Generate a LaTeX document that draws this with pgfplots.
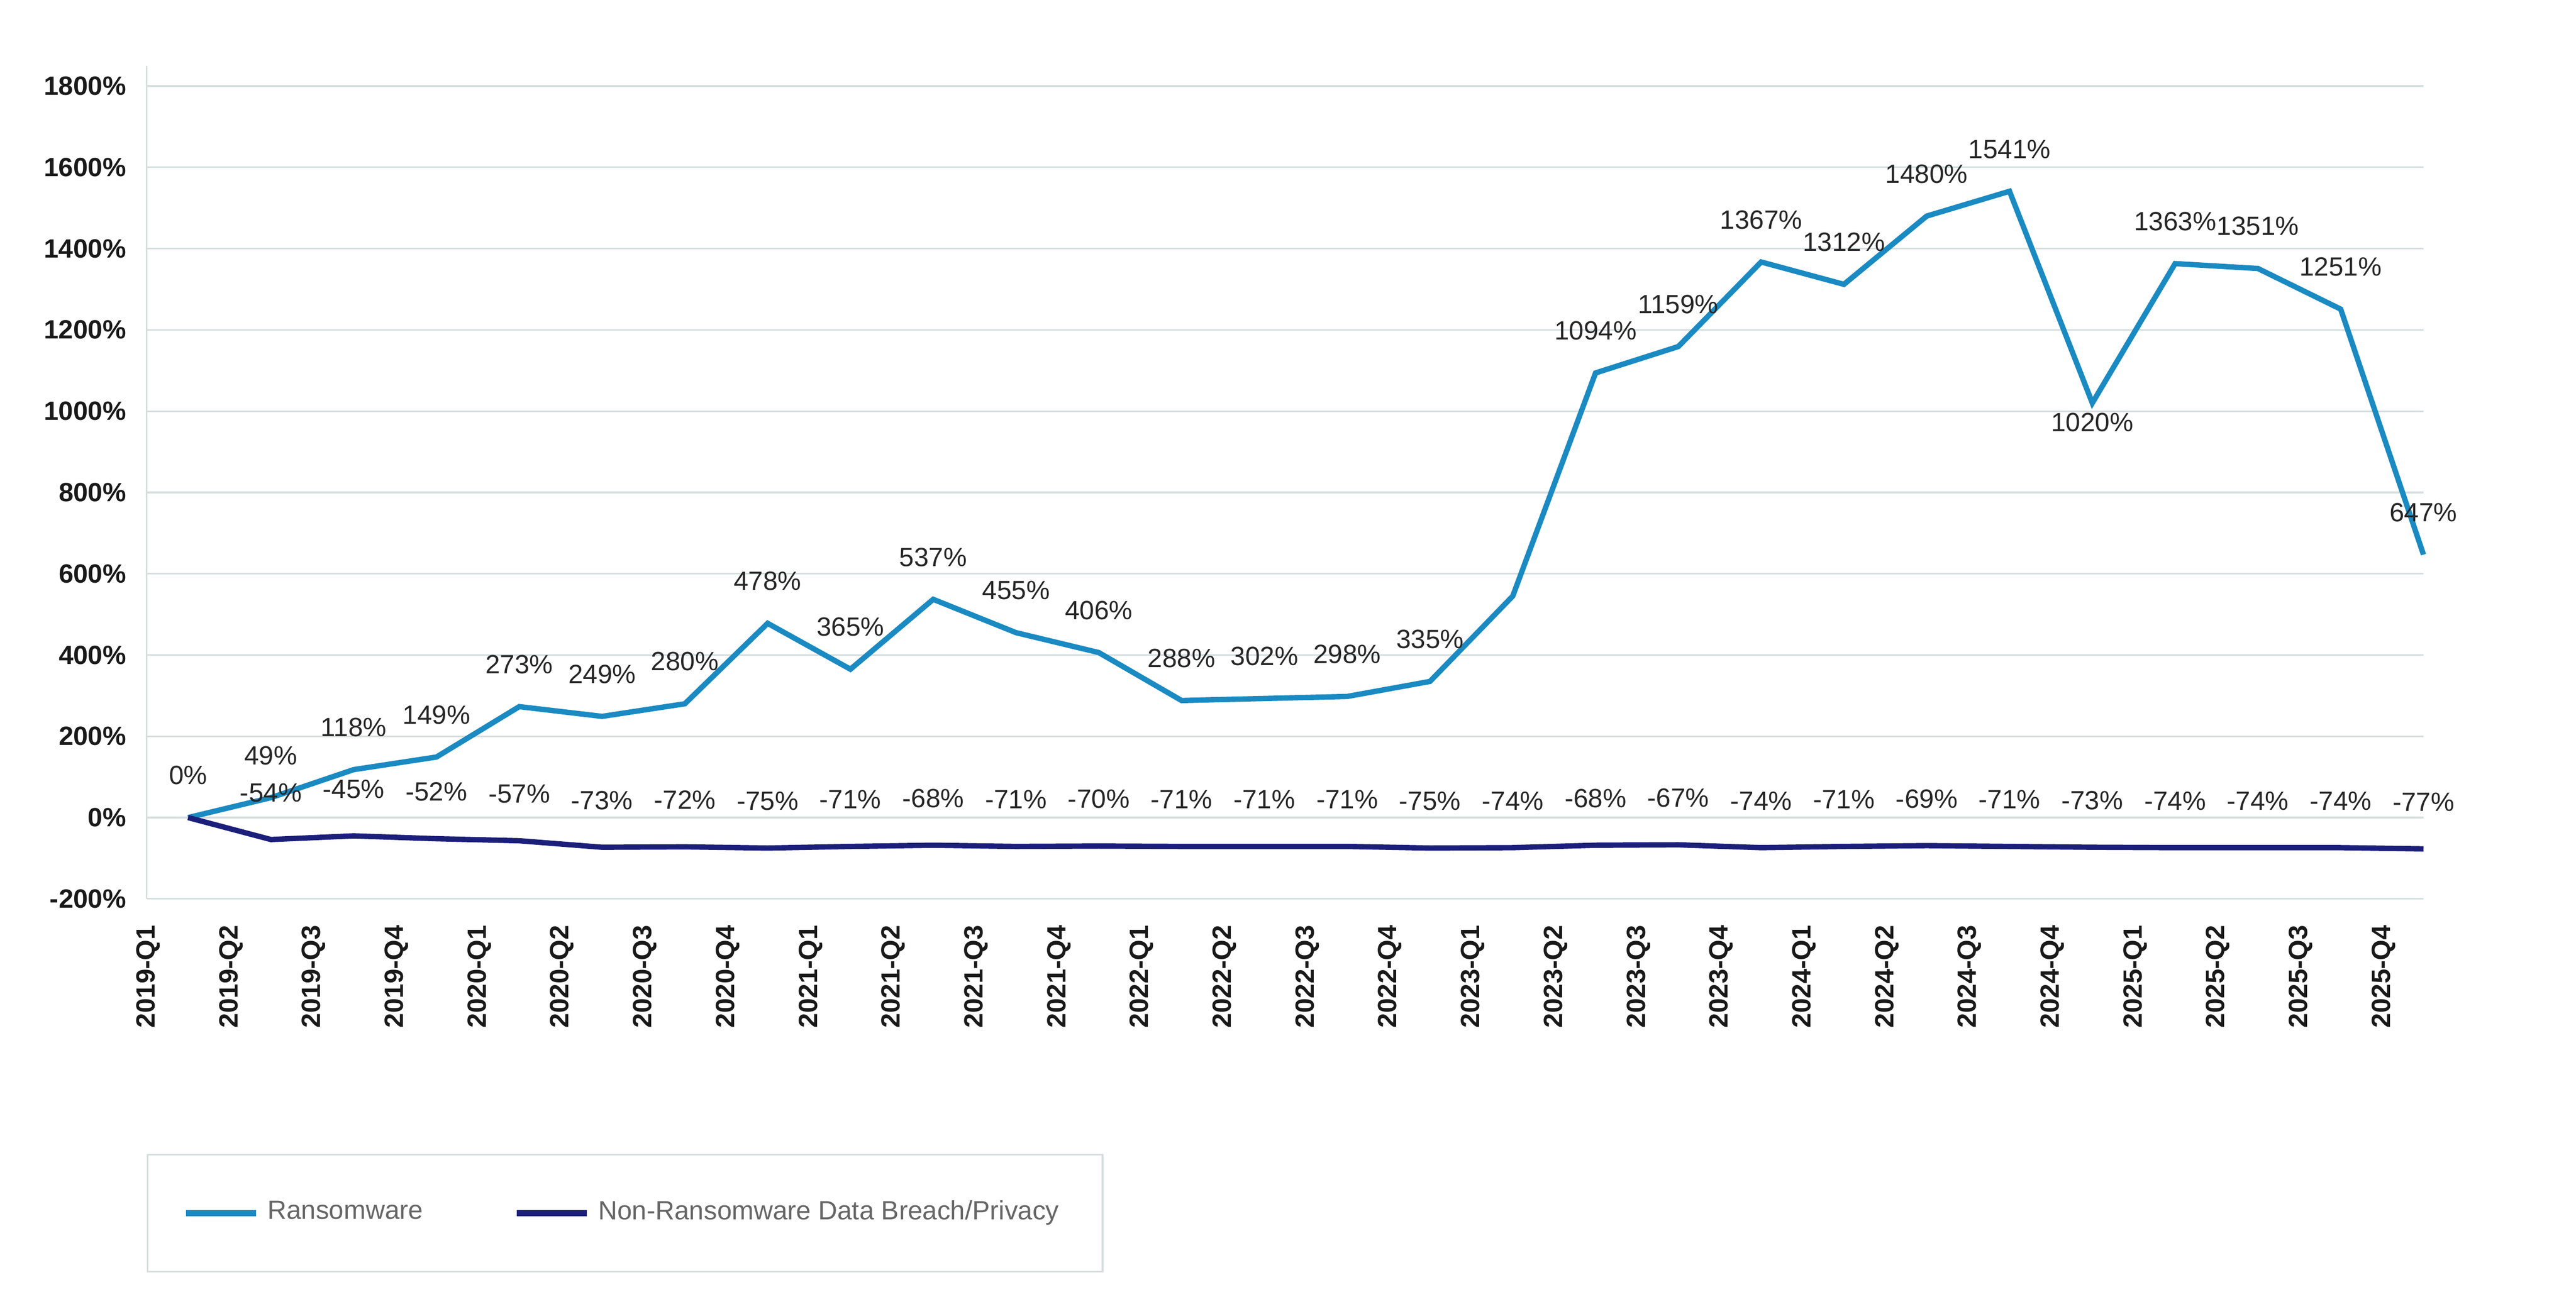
\documentclass[border=0pt]{standalone}
\usepackage{pgfplots}
\pgfplotsset{compat=1.18}
\usepackage{fontspec}
\setmainfont{Liberation Sans}
\definecolor{ransom}{HTML}{1A8AC2}
\definecolor{nonr}{HTML}{1B1F7A}
\definecolor{gridc}{HTML}{D5DEDE}
\newcommand{\lblfont}{\fontsize{6.4}{7.5}\selectfont}
\begin{document}
\begin{tikzpicture}
\path[use as bounding box] (-1.25cm,-3.35cm) rectangle (20.7cm,7.66cm);
\begin{axis}[
  width=19.4cm, height=7.1cm, scale only axis,
  xmin=-0.5, xmax=27, ymin=-200, ymax=1850,
  axis lines*=left, axis line style={gridc},
  x axis line style={draw=none},
  ytick={-200,0,200,...,1800},
  yticklabel={\pgfmathprintnumber[1000 sep={}]{\tick}\%},
  yticklabel style={font=\bfseries\lblfont, color=black!90, xshift=-0.05cm},
  /pgf/number format/assume math mode=true,
  ymajorgrids, grid style={gridc},
  major tick length=0pt,
  xtick={0,...,27},
  xticklabels={2019-Q1,2019-Q2,2019-Q3,2019-Q4,2020-Q1,2020-Q2,2020-Q3,2020-Q4,2021-Q1,2021-Q2,2021-Q3,2021-Q4,2022-Q1,2022-Q2,2022-Q3,2022-Q4,2023-Q1,2023-Q2,2023-Q3,2023-Q4,2024-Q1,2024-Q2,2024-Q3,2024-Q4,2025-Q1,2025-Q2,2025-Q3,2025-Q4},
  xticklabel style={rotate=90, anchor=east, font=\bfseries\lblfont, color=black!90, yshift=0.34cm, xshift=-0.1cm},
  clip=false,
  point meta=explicit symbolic,
  nodes near coords style={font=\lblfont, color=black!85, anchor=south, yshift=0.14cm},
  legend style={at={(0,-0.306)}, anchor=north west, draw=gridc, font=\lblfont, text=black!60,
    inner xsep=0.3cm, inner ysep=0.32cm, /tikz/every even column/.append style={column sep=0.7cm}},
  legend image post style={line width=1.5pt},
  legend columns=2,
  legend cell align=left,
]
\addplot[ransom, line width=1.3pt, nodes near coords] coordinates {
(0,0)[0\%] (1,49)[49\%] (2,118)[118\%] (3,149)[149\%] (4,273)[273\%] (5,249)[249\%]
(6,280)[280\%] (7,478)[478\%] (8,365)[365\%] (9,537)[537\%] (10,455)[455\%] (11,406)[406\%]
(12,288)[288\%] (13,293)[302\%] (14,298)[298\%] (15,335)[335\%] (16,545)[] (17,1094)[1094\%]
(18,1159)[1159\%] (19,1367)[1367\%] (20,1312)[1312\%] (21,1480)[1480\%] (22,1541)[1541\%]
(23,1020)[] (24,1363)[1363\%] (25,1351)[1351\%] (26,1251)[1251\%] (27,647)[647\%]};
\addlegendentry{Ransomware}
\addplot[nonr, line width=1.3pt, nodes near coords, nodes near coords style={yshift=0.04cm}] coordinates {
(0,0)[] (1,-54)[-54\%] (2,-45)[-45\%] (3,-52)[-52\%] (4,-57)[-57\%] (5,-73)[-73\%]
(6,-72)[-72\%] (7,-75)[-75\%] (8,-71)[-71\%] (9,-68)[-68\%] (10,-71)[-71\%] (11,-70)[-70\%]
(12,-71)[-71\%] (13,-71)[-71\%] (14,-71)[-71\%] (15,-75)[-75\%] (16,-74)[-74\%] (17,-68)[-68\%]
(18,-67)[-67\%] (19,-74)[-74\%] (20,-71)[-71\%] (21,-69)[-69\%] (22,-71)[-71\%] (23,-73)[-73\%]
(24,-74)[-74\%] (25,-74)[-74\%] (26,-74)[-74\%] (27,-77)[-77\%]};
\addlegendentry{Non-Ransomware Data Breach/Privacy}
\addplot[draw=none, forget plot, nodes near coords, nodes near coords style={anchor=north, yshift=-0.1cm}] coordinates {(23,1020)[1020\%]};
\end{axis}
\end{tikzpicture}
\end{document}
